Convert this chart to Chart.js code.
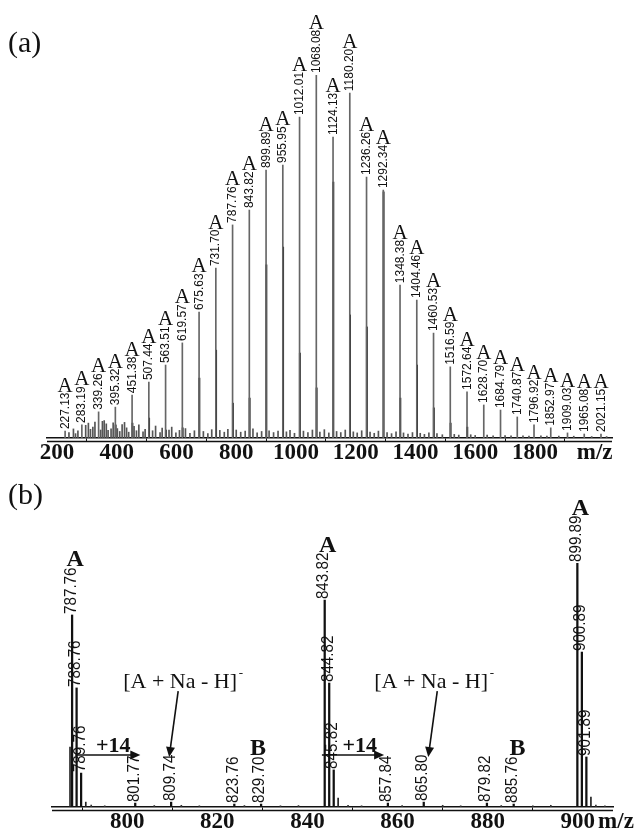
<!DOCTYPE html>
<html>
<head>
<meta charset="utf-8">
<script src="https://cdn.jsdelivr.net/npm/chart.js@4.4.0/dist/chart.umd.min.js"></script>
<style>
  html, body { margin: 0; padding: 0; background: #fff; }
  canvas { position: absolute; left: 0; }
  #chartA { top: 0; }
  #chartB { top: 470px; }
</style>
</head>
<body>
<canvas id="chartA" width="641" height="470"></canvas>
<canvas id="chartB" width="641" height="370"></canvas>
<script>
// ---- panel (a): full spectrum ----
const peakMzA = [227.13, 283.19, 339.26, 395.32, 451.38, 507.44, 563.51, 619.57, 675.63, 731.70,
  787.76, 843.82, 899.89, 955.95, 1012.01, 1068.08, 1124.13, 1180.20, 1236.26, 1292.34,
  1348.38, 1404.46, 1460.53, 1516.59, 1572.64, 1628.70, 1684.79, 1740.87, 1796.92, 1852.97,
  1909.03, 1965.08, 2021.15];
const peakIntA = [1.9, 3.6, 7.2, 8.5, 11.8, 15.4, 20.1, 26.2, 34.7, 46.8,
  58.7, 62.8, 73.8, 75.2, 88.4, 100, 82.9, 95.0, 71.9, 68.3,
  42.1, 38.0, 28.9, 19.6, 12.7, 9.1, 7.7, 5.8, 3.6, 2.8,
  1.4, 1.1, 1.1];

// isotope companions (drawn darker, right next to the main lines)
const isoMzA = [396.3, 452.4, 508.4, 564.5, 620.6, 676.6, 732.7, 788.8, 844.8, 900.9,
  957.0, 1013.0, 1069.1, 1125.1, 1181.2, 1237.3, 1293.3, 1349.4, 1405.5, 1461.5, 1517.6, 1573.6];
const isoIntA = [3.6, 4.1, 5.5, 2.2, 2.8, 16.5, 24.2, 9.6, 11.0, 47.7,
  52.6, 23.4, 13.8, 70.5, 33.9, 30.6, 67.8, 11.0, 20.1, 8.3, 4.1, 3.0];

// small background peaks
const noiseMzA = [240, 255, 262, 270, 296, 305, 312, 320, 327, 346, 352, 358, 365, 371, 381, 388,
  402, 410, 418, 426, 433, 440, 458, 466, 474, 488, 495, 520, 530, 545, 552, 575, 584, 598,
  610, 630, 645, 660, 690, 705, 718, 745, 760, 772, 800, 815, 830, 856, 870, 885, 910, 925,
  940, 968, 980, 995, 1025, 1040, 1055, 1080, 1095, 1110, 1136, 1150, 1165, 1192, 1205, 1220,
  1248, 1262, 1276, 1305, 1320, 1335, 1360, 1375, 1390, 1416, 1430, 1445, 1472, 1490, 1530,
  1545, 1585, 1600, 1640, 1660, 1700, 1720, 1760, 1780, 1820, 1840, 1880, 1930, 1990, 2040];
const noiseIntA = [1.5, 2.5, 1.2, 2.0, 3.5, 4.1, 2.4, 3.0, 4.4, 2.2, 4.6, 4.8, 3.9, 2.1, 2.5, 4.2,
  2.6, 1.8, 3.7, 4.3, 2.8, 1.6, 3.2, 2.0, 3.6, 1.7, 2.4, 2.0, 3.3, 1.5, 2.7, 2.2, 3.0, 1.4,
  2.1, 2.6, 1.3, 2.0, 1.8, 1.2, 2.3, 2.1, 1.6, 2.4, 2.2, 1.6, 1.9, 2.5, 1.4, 1.8, 2.0, 1.5,
  1.9, 1.7, 2.1, 1.3, 1.9, 1.5, 2.2, 1.6, 2.3, 1.4, 1.8, 1.5, 2.2, 1.7, 1.4, 2.0,
  1.6, 1.3, 1.9, 1.5, 1.2, 1.7, 1.4, 1.1, 1.5, 1.3, 1.0, 1.4, 1.2, 0.9, 1.0,
  0.8, 0.9, 0.7, 0.8, 0.6, 0.7, 0.6, 0.6, 0.5, 0.6, 0.5, 0.5, 0.5, 0.4, 0.4];

const ticksA = { min: 166.5, max: 2058, step: 200 };

// ---- panel (b): zoom 785-905 ----
const peakMzB = [787.76, 788.76, 789.76, 801.77, 809.74, 823.76, 829.70, 843.82, 844.82, 845.82,
  857.84, 865.80, 879.82, 885.76, 899.89, 900.89, 901.89];
const peakIntB = [78.7, 48.8, 13.9, 1.6, 2.0, 1.2, 1.2, 84.8, 50.8, 15.2,
  1.6, 2.0, 1.6, 1.2, 100, 63.5, 20.5];
const seriesA_B = [787.76, 843.82, 899.89];   // peaks marked "A"

const minorMzB = [787.3, 790.8, 846.8, 902.9];
const minorIntB = [24.6, 2.0, 3.7, 4.1];
const noiseMzB = [792, 795, 806, 812, 816, 826, 834, 838, 849, 852, 861, 870, 874, 883, 890, 894, 904, 906];
const noiseIntB = [0.8, 0.5, 0.6, 0.7, 0.5, 0.6, 0.5, 0.6, 0.7, 0.5, 0.6, 0.7, 0.5, 0.6, 0.5, 0.7, 0.8, 0.5];

const ticksB = { min: 783.3, max: 907.8, step: 20 };

const toXY = (xs, ys) => xs.map((x, i) => ({ x: x, y: ys[i] }));

// annotation layout for (b), in data units
const annotationsB = {
  naLabels: [{ x: 812.4, y: 51.2 }, { x: 868.1, y: 51.2 }],
  naArrows: [{ x0: 811.3, y0: 47.5, x1: 809.3, y1: 20.5 }, { x0: 868.8, y0: 47.5, x1: 866.8, y1: 20.5 }],
  shiftLabels: [{ x: 796.9, y: 25 }, { x: 851.6, y: 25 }],
  shiftArrows: [{ x0: 788.5, y0: 21.3, x1: 802.9, y1: 21.3 }, { x0: 843.2, y0: 21.3, x1: 857.0, y1: 21.3 }],
  bLabels: [{ x: 829.0, y: 23.8 }, { x: 886.6, y: 23.8 }]
};

function drawArrow(ctx, x0, y0, x1, y1) {
  const ang = Math.atan2(y1 - y0, x1 - x0);
  const head = 10;
  ctx.beginPath();
  ctx.moveTo(x0, y0);
  ctx.lineTo(x1 - Math.cos(ang) * head * 0.8, y1 - Math.sin(ang) * head * 0.8);
  ctx.stroke();
  ctx.beginPath();
  ctx.moveTo(x1, y1);
  ctx.lineTo(x1 - head * Math.cos(ang) + 4.5 * Math.sin(ang), y1 - head * Math.sin(ang) - 4.5 * Math.cos(ang));
  ctx.lineTo(x1 - head * Math.cos(ang) - 4.5 * Math.sin(ang), y1 - head * Math.sin(ang) + 4.5 * Math.cos(ang));
  ctx.closePath();
  ctx.fill();
}

// rotated m/z labels + "A" markers above peaks
function peakLabelPlugin(id, mzs, ints, opt) {
  return {
    id: id,
    afterDatasetsDraw(chart) {
      const { ctx, scales: { x, y } } = chart;
      ctx.save();
      ctx.fillStyle = '#111';
      mzs.forEach((mz, i) => {
        const px = x.getPixelForValue(mz);
        const py = y.getPixelForValue(ints[i]);
        const label = mz.toFixed(2);
        ctx.save();
        ctx.translate(px + opt.dx, py - opt.gap);
        ctx.rotate(-Math.PI / 2);
        ctx.scale(opt.squeeze, 1);
        ctx.font = opt.font;
        ctx.textAlign = 'left';
        ctx.textBaseline = 'middle';
        ctx.fillText(label, 0, 0);
        const w = ctx.measureText(label).width * opt.squeeze;
        ctx.restore();
        if (opt.marked(mz)) {
          ctx.font = opt.aFont;
          ctx.textAlign = 'center';
          ctx.textBaseline = 'alphabetic';
          ctx.fillText('A', px + opt.adx, py - opt.gap - w - 1);
        }
      });
      ctx.restore();
    }
  };
}

function frameDecor(panelLabel, labelY, mzText) {
  return {
    id: 'frameDecor',
    afterDraw(chart) {
      const { ctx, chartArea } = chart;
      ctx.save();
      ctx.strokeStyle = '#111';
      ctx.lineWidth = 1.5;
      ctx.beginPath();
      ctx.moveTo(chartArea.left, chartArea.bottom + 3.5);
      ctx.lineTo(chartArea.right, chartArea.bottom + 3.5);
      ctx.stroke();
      ctx.fillStyle = '#111';
      ctx.font = '30px "Liberation Serif", serif';
      ctx.textAlign = 'left';
      ctx.textBaseline = 'alphabetic';
      ctx.fillText(panelLabel, 8, labelY);
      if (mzText) {
        ctx.font = 'bold 23px "Liberation Serif", serif';
        ctx.textAlign = 'center';
        ctx.textBaseline = 'middle';
        ctx.fillText(mzText.text, mzText.x, chartArea.bottom + 15);
      }
      ctx.restore();
    }
  };
}

const annotPluginB = {
  id: 'annotB',
  afterDraw(chart) {
    const { ctx, scales: { x, y } } = chart;
    const X = v => x.getPixelForValue(v), Y = v => y.getPixelForValue(v);
    ctx.save();
    ctx.fillStyle = '#111';
    ctx.strokeStyle = '#111';
    ctx.lineWidth = 1.6;
    ctx.textAlign = 'center';
    ctx.textBaseline = 'middle';
    annotationsB.naLabels.forEach(p => {
      ctx.font = '22px "Liberation Serif", serif';
      const t = '[A + Na - H]';
      const w = ctx.measureText(t).width;
      ctx.fillText(t, X(p.x) - 3, Y(p.y));
      ctx.font = '13px "Liberation Serif", serif';
      ctx.fillText('-', X(p.x) - 3 + w / 2 + 4, Y(p.y) - 8);
    });
    annotationsB.naArrows.forEach(a => drawArrow(ctx, X(a.x0), Y(a.y0), X(a.x1), Y(a.y1)));
    annotationsB.shiftArrows.forEach(a => drawArrow(ctx, X(a.x0), Y(a.y0), X(a.x1), Y(a.y1)));
    ctx.font = 'bold 22px "Liberation Serif", serif';
    annotationsB.shiftLabels.forEach(p => ctx.fillText('+14', X(p.x), Y(p.y)));
    ctx.font = 'bold 24px "Liberation Serif", serif';
    annotationsB.bLabels.forEach(p => ctx.fillText('B', X(p.x), Y(p.y)));
    ctx.restore();
  }
};

const tickFont = { family: '"Liberation Serif", serif', size: 23, weight: 'bold', lineHeight: 1 };

function xAxis(t, cb) {
  return {
    type: 'linear',
    min: t.min,
    max: t.max,
    offset: false,
    border: { display: true, color: '#111', width: 1.5 },
    grid: { display: true, drawOnChartArea: false, drawTicks: true, tickLength: 4, color: '#111', lineWidth: 1 },
    ticks: { stepSize: t.step, includeBounds: false, autoSkip: false, maxRotation: 0,
             padding: 0, color: '#111', font: tickFont, callback: cb }
  };
}

const yAxis = { display: false, min: 0, max: 100 };

const baseOptions = {
  responsive: false,
  animation: false,
  devicePixelRatio: 1,
  plugins: { legend: { display: false }, tooltip: { enabled: false } }
};

new Chart(document.getElementById('chartA'), {
  type: 'bar',
  data: {
    datasets: [
      { data: toXY(noiseMzA, noiseIntA), backgroundColor: '#555', barThickness: 1, grouped: false },
      { data: toXY(peakMzA, peakIntA), backgroundColor: '#666', barThickness: 1, grouped: false },
      { data: toXY(isoMzA, isoIntA), backgroundColor: '#111', barThickness: 1.2, grouped: false }
    ]
  },
  options: Object.assign({}, baseOptions, {
    layout: { padding: { left: 47, right: 29, top: 75, bottom: 5 } },
    scales: {
      x: xAxis(ticksA, v => (v === 2000 ? 'm/z' : v)),
      y: yAxis
    }
  }),
  plugins: [
    peakLabelPlugin('labelsA', peakMzA, peakIntA, {
      dx: 0, gap: 2, squeeze: 0.92, font: '13px "Liberation Sans", sans-serif',
      aFont: '21px "Liberation Serif", serif', adx: 0, marked: () => true
    }),
    frameDecor('(a)', 52, null)
  ]
});

new Chart(document.getElementById('chartB'), {
  type: 'bar',
  data: {
    datasets: [
      { data: toXY(noiseMzB, noiseIntB), backgroundColor: '#333', barThickness: 1, grouped: false },
      { data: toXY(minorMzB, minorIntB), backgroundColor: '#222', barThickness: 1, grouped: false },
      { data: toXY(peakMzB, peakIntB), backgroundColor: '#111', barThickness: 1.6, grouped: false }
    ]
  },
  options: Object.assign({}, baseOptions, {
    layout: { padding: { left: 52, right: 28, top: 93, bottom: 6 } },
    scales: {
      x: xAxis(ticksB, v => v),
      y: yAxis
    }
  }),
  plugins: [
    peakLabelPlugin('labelsB', peakMzB, peakIntB, {
      dx: -1, gap: 1, squeeze: 0.95, font: '16px "Liberation Sans", sans-serif',
      aFont: 'bold 24px "Liberation Serif", serif', adx: 3, marked: mz => seriesA_B.includes(mz)
    }),
    frameDecor('(b)', 34, { text: 'm/z', x: 616 }),
    annotPluginB
  ]
});
</script>
</body>
</html>
